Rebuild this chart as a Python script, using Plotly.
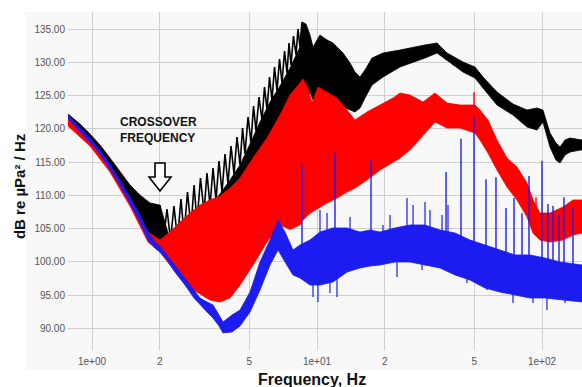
import plotly.graph_objects as go

# ---------------- data (frequency in Hz, level in dB re uPa^2/Hz) ----------------
# Black series: band envelope (upper / lower)
black_freq = [0.782, 0.884, 0.980, 1.085, 1.202, 1.332, 1.475, 1.634, 1.811, 2.005,
              2.222, 2.461, 2.727, 3.020, 3.346, 3.707, 4.106, 4.549, 5.039, 5.580,
              6.183, 6.850, 7.586, 8.402, 8.576, 8.934, 9.309, 9.600, 10.31, 11.08,
              11.78, 13.05, 14.02, 14.75, 15.53, 16.34, 17.56, 19.65, 23.38, 26.72,
              30.20, 34.15, 37.84, 44.56, 50.37, 54.67, 63.10, 74.32, 85.77, 95.0,
              101.0, 108.5, 115.4, 120.2, 126.6, 133.2, 147.5, 150.6]
black_hi = [122.22, 120.71, 119.21, 117.56, 115.60, 113.50, 111.54, 110.04, 108.83, 108.53,
            103.27, 103.57, 104.92, 106.73, 108.38, 110.19, 112.29, 114.55, 117.71, 121.02,
            124.02, 126.43, 129.14, 132.29, 136.05, 135.75, 134.10, 132.29, 134.10, 133.35,
            132.90, 131.39, 129.89, 128.53, 127.78, 128.83, 130.64, 131.39, 131.84, 132.29,
            132.60, 132.90, 131.39, 130.04, 129.29, 127.78, 125.53, 123.72, 122.82, 123.12,
            122.82, 119.36, 117.86, 117.26, 118.31, 118.61, 118.31, 118.31]
black_lo = [121.47, 119.66, 118.01, 116.20, 113.95, 111.54, 108.83, 105.98, 103.57, 102.52,
            102.52, 102.52, 102.82, 103.27, 104.02, 104.77, 106.28, 107.78, 110.04, 113.05,
            115.60, 118.31, 121.32, 123.57, 124.32, 125.07, 125.53, 124.32, 125.07, 124.32,
            123.57, 123.27, 122.82, 122.52, 123.12, 124.62, 126.58, 127.78, 129.29, 130.04,
            130.64, 131.39, 130.34, 128.53, 127.63, 126.13, 123.57, 122.07, 120.26, 119.81,
            121.02, 117.26, 115.30, 114.85, 116.05, 116.50, 116.80, 116.80]

# Black series: resonance comb between 2 and 8.6 Hz (alternating peak / trough)
comb_freq = [2.005, 2.078, 2.154, 2.233, 2.314, 2.399, 2.486, 2.564, 2.657, 2.754,
             2.841, 2.929, 3.035, 3.146, 3.244, 3.346, 3.450, 3.557, 3.668, 3.783,
             3.901, 4.021, 4.148, 4.277, 4.410, 4.549, 4.667, 4.786, 4.937, 5.090,
             5.223, 5.357, 5.524, 5.695, 5.843, 5.995, 6.151, 6.310, 6.474, 6.642,
             6.815, 6.989, 7.173, 7.357, 7.509, 7.664, 7.862, 8.067, 8.233, 8.402, 8.576]
comb_db = [108.53, 103.27, 107.93, 103.27, 108.38, 103.42, 109.44, 104.02, 110.49, 105.08,
           111.54, 105.98, 112.59, 107.48, 113.35, 108.38, 114.10, 109.29, 115.15, 110.49,
           116.20, 111.69, 117.41, 113.20, 118.76, 114.55, 120.11, 116.20, 121.77, 118.01,
           123.42, 119.66, 124.77, 121.32, 126.28, 122.82, 127.78, 124.32, 129.29, 125.68,
           130.49, 126.88, 131.69, 128.38, 132.90, 129.59, 133.95, 131.09, 135.00, 132.29, 136.05]

# Red series: band envelope
red_freq = [0.782, 0.980, 1.202, 1.475, 1.774, 2.005, 2.222, 2.461, 2.727, 3.020,
            3.346, 3.707, 4.106, 4.549, 5.197, 5.995, 6.850, 7.586, 8.402, 8.665,
            9.120, 9.502, 10.10, 11.08, 12.27, 13.60, 14.75, 16.68, 19.05, 21.77,
            23.38, 25.91, 29.59, 33.45, 37.84, 43.20, 50.37, 53.02, 57.54, 63.10,
            69.89, 77.42, 85.77, 91.20, 97.97, 108.5, 124.0, 137.3, 150.6]
red_hi = [121.47, 118.46, 114.55, 109.59, 104.47, 103.27, 104.47, 105.98, 107.33, 108.53,
          109.29, 109.89, 111.09, 112.59, 115.60, 118.61, 122.07, 125.07, 126.88, 127.48,
          126.13, 123.87, 126.28, 125.53, 124.62, 122.82, 121.32, 122.52, 123.57, 124.62,
          125.37, 125.07, 124.02, 125.37, 123.87, 123.57, 123.57, 122.82, 121.32, 118.31,
          115.60, 114.25, 111.84, 109.29, 107.33, 107.33, 108.23, 109.29, 109.29]
red_lo = [120.41, 117.41, 113.50, 108.38, 102.97, 101.47, 99.51, 97.56, 96.05, 95.15,
          94.25, 93.95, 94.55, 96.50, 99.51, 102.97, 105.53, 104.87, 105.53, 106.28,
          107.03, 107.48, 108.08, 108.83, 109.59, 110.49, 111.09, 112.29, 113.80, 115.00,
          115.60, 116.80, 119.06, 121.02, 120.11, 120.11, 119.36, 118.31, 116.35, 113.80,
          111.24, 109.29, 106.73, 104.32, 103.27, 102.97, 103.27, 104.02, 104.32]
red_spike_freq = [49.86, 94.06]
red_spike_base = [121.0, 105.0]
red_spike_top = [125.5, 109.7]

# Blue series: band envelope
blue_freq = [0.782, 0.884, 0.980, 1.085, 1.202, 1.332, 1.475, 1.634, 1.774, 1.905,
             2.005, 2.154, 2.338, 2.590, 2.841, 3.020, 3.244, 3.450, 3.668, 3.822,
             4.191, 4.549, 5.039, 5.580, 6.183, 6.711, 7.209, 7.822, 8.402, 9.309,
             10.31, 11.78, 13.60, 15.53, 17.20, 19.05, 22.22, 25.91, 30.20, 35.22,
             41.06, 47.86, 55.81, 65.07, 75.86, 88.46, 103.1, 120.2, 150.6]
blue_hi = [122.07, 120.26, 118.61, 116.80, 114.70, 112.29, 109.74, 107.03, 104.47, 102.97,
           102.37, 101.02, 99.51, 97.56, 95.75, 94.55, 93.95, 93.50, 91.99, 90.94,
           91.99, 92.74, 95.45, 99.96, 103.27, 106.28, 104.47, 101.77, 102.52, 103.27,
           104.47, 105.08, 105.08, 104.47, 104.77, 104.47, 105.08, 105.53, 105.53, 104.77,
           104.32, 103.27, 102.52, 101.77, 101.02, 101.02, 100.56, 99.96, 99.51]
blue_lo = [121.47, 119.66, 118.01, 116.20, 113.95, 111.54, 108.83, 105.98, 103.27, 102.07,
           101.47, 100.26, 98.46, 96.50, 94.55, 93.50, 92.44, 91.54, 90.34, 89.29,
           89.44, 90.34, 92.44, 95.75, 99.51, 101.77, 99.96, 98.01, 97.56, 96.50,
           96.50, 96.96, 98.46, 99.06, 99.36, 99.51, 99.96, 99.96, 99.51, 99.06,
           98.01, 97.26, 96.05, 95.45, 95.00, 94.55, 94.55, 94.25, 93.95]

# Blue series: tonal lines
spike_freq = [8.576, 12.02, 17.38, 37.45, 43.65, 49.86, 56.38, 62.44, 69.18, 75.09,
              81.49, 87.54, 100.0, 106.3, 111.9, 119.0, 125.2, 137.3]
spike_base = [100, 101, 101, 101, 101, 100, 99, 99, 98, 98, 98, 97, 97, 97, 97, 97, 96, 96]
spike_top = [114.5, 116.4, 115.3, 113.5, 118.5, 121.8, 112.4, 112.7, 108.1, 109.6,
             107.3, 112.9, 115.2, 108.7, 108.4, 107.2, 109.7, 108.2]

# Blue series: smaller excursions of the noise
minor_freq = [9.600, 10.10, 10.31, 11.08, 11.42, 12.27, 14.02, 19.65, 21.11, 22.68,
              25.12, 26.72, 29.29, 30.20, 31.78, 35.94, 38.21, 46.42, 56.96, 74.32,
              91.20, 105.2, 126.6]
minor_base = [100, 100, 100, 101, 101, 101, 101, 102, 102, 102, 102, 102, 102, 102,
              102, 102, 102, 100, 99, 98, 98, 97, 97]
minor_tip = [94.70, 93.95, 107.78, 107.33, 95.30, 94.70, 106.73, 105.53, 107.03, 97.71,
             109.59, 108.53, 98.76, 108.98, 107.78, 107.03, 108.53, 96.81, 95.75, 93.80,
             93.80, 92.74, 93.80]

y_ticks = [90, 95, 100, 105, 110, 115, 120, 125, 130, 135]
x_ticks = [1, 2, 5, 10, 20, 50, 100]
x_tick_text = ["1e+00", "2", "5", "1e+01", "2", "5", "1e+02"]

BLACK = "#000000"
RED = "#ff0000"
BLUE = "#1c1cf0"


def band(freq, hi, lo, color, width=0.8):
    return go.Scatter(
        x=list(freq) + list(freq)[::-1],
        y=list(hi) + list(lo)[::-1],
        mode="lines", fill="toself", fillcolor=color,
        line=dict(color=color, width=width),
        hoverinfo="skip", showlegend=False,
    )


def segments(freq, base, top, color, width):
    xs, ys = [], []
    for f, b, t in zip(freq, base, top):
        xs += [f, f, None]
        ys += [b, t, None]
    return go.Scatter(x=xs, y=ys, mode="lines", line=dict(color=color, width=width),
                      hoverinfo="skip", showlegend=False)


fig = go.Figure()
fig.add_trace(band(black_freq, black_hi, black_lo, BLACK))
fig.add_trace(go.Scatter(x=comb_freq, y=comb_db, mode="lines",
                         line=dict(color=BLACK, width=1.6),
                         hoverinfo="skip", showlegend=False))
fig.add_trace(band(red_freq, red_hi, red_lo, RED))
fig.add_trace(segments(red_spike_freq, red_spike_base, red_spike_top, RED, 1.4))
fig.add_trace(band(blue_freq, blue_hi, blue_lo, BLUE))
fig.add_trace(segments(minor_freq, minor_base, minor_tip, BLUE, 1.2))
fig.add_trace(segments(spike_freq, spike_base, spike_top, BLUE, 1.4))

PANEL = "#f8f8f8"
GRID = "#cfcfcf"
tick_font = dict(family="Liberation Sans, Arial, sans-serif", size=10, color="#555555")

fig.update_layout(
    width=582, height=387,
    margin=dict(l=68, r=0, t=12, b=37),
    paper_bgcolor="white",
    plot_bgcolor=PANEL,
    showlegend=False,
    xaxis=dict(
        type="log", range=[-0.1067, 2.1778],
        tickvals=x_ticks, ticktext=x_tick_text, tickfont=tick_font,
        showgrid=True, gridcolor=GRID, gridwidth=1,
        zeroline=False, showline=False, ticks="", ticklabelstandoff=4,
    ),
    yaxis=dict(
        range=[86.73, 137.56],
        tickvals=y_ticks, tickformat=".2f", tickfont=tick_font,
        showgrid=True, gridcolor=GRID, gridwidth=1,
        zeroline=False, showline=False, ticks="", ticklabelstandoff=2,
    ),
    shapes=[
        # light panel behind the plot and its tick labels
        dict(type="rect", xref="paper", yref="paper",
             x0=-0.0837, x1=1.0, y0=-0.0592, y1=1.0,
             fillcolor=PANEL, line=dict(width=0), layer="below"),
        # hollow arrow marking the crossover frequency
        dict(type="path", xref="paper", yref="paper",
             path="M 0.1693 0.5533 L 0.1887 0.5533 L 0.1887 0.5118 L 0.2004 0.5118 "
                  "L 0.1790 0.4704 L 0.1576 0.5118 L 0.1693 0.5118 Z",
             fillcolor="white", line=dict(color="black", width=1.6), layer="above"),
    ],
    annotations=[
        dict(text="CROSSOVER<br>FREQUENCY", xref="paper", yref="paper",
             x=0.0973, y=0.652, xanchor="left", yanchor="middle", align="left",
             showarrow=False,
             font=dict(family="Liberation Sans, Arial, sans-serif", size=12,
                       color="#111111", weight="bold")),
        dict(text="Frequency, Hz", xref="paper", yref="paper",
             x=0.4747, y=-0.0858, xanchor="center", yanchor="middle",
             showarrow=False,
             font=dict(family="Liberation Sans, Arial, sans-serif", size=16,
                       color="#111111", weight="bold")),
        dict(text="dB re µPa² / Hz", xref="paper", yref="paper",
             x=-0.0953, y=0.482, xanchor="center", yanchor="middle",
             textangle=-90, showarrow=False,
             font=dict(family="Liberation Sans, Arial, sans-serif", size=15,
                       color="#111111", weight="bold")),
    ],
)

fig.write_html("out.html")
